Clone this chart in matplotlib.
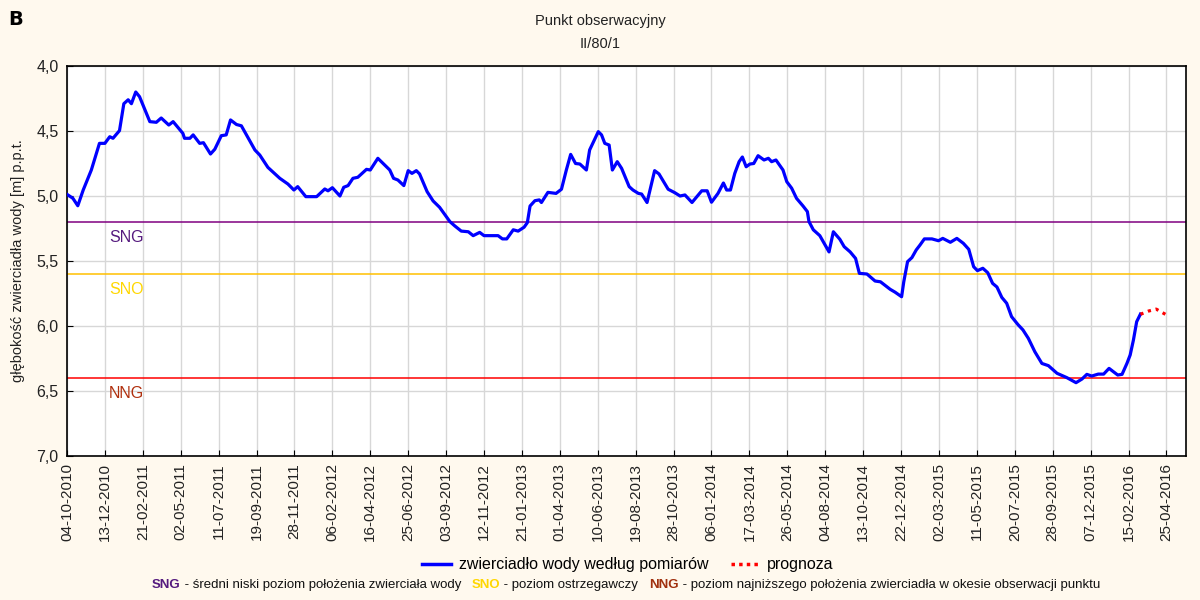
import numpy as np
import pandas as pd
import matplotlib
matplotlib.use("Agg")
import matplotlib.pyplot as plt
import matplotlib.dates as mdates
from matplotlib.lines import Line2D
from matplotlib.offsetbox import TextArea, HPacker, AnchoredOffsetbox

plt.rcParams['font.family'] = ['Liberation Sans', 'DejaVu Sans']

start = pd.Timestamp('2010-10-04')

# dni od 04-10-2010 i głębokość zwierciadła [m p.p.t.]
dni = [0, 11, 20, 30, 45, 60, 70, 79, 85, 97, 105, 113, 119, 127, 134, 153, 165, 174, 188, 196,
       214, 217, 227, 233, 245, 252, 265, 273, 285, 294, 302, 313, 322, 347, 356, 371, 393, 408,
       419, 426, 441, 461, 476, 482, 490, 504, 511, 519, 528, 537, 553, 560, 574, 596, 603, 611,
       622, 630, 637, 645, 651, 665, 676, 688, 707, 716, 728, 741, 750, 762, 770, 796, 804, 812,
       824, 833, 844, 850, 855, 864, 872, 876, 888, 903, 913, 922, 930, 939, 947, 959, 965, 981,
       987, 993, 1001, 1007, 1016, 1024, 1038, 1045, 1055, 1061, 1071, 1085, 1093, 1110, 1122,
       1132, 1141, 1154, 1172, 1182, 1190, 1202, 1212, 1218, 1225, 1233, 1241, 1247, 1254, 1261,
       1268, 1276, 1287, 1295, 1301, 1309, 1322, 1329, 1338, 1347, 1359, 1367, 1370, 1378, 1390,
       1398, 1407, 1415, 1427, 1435, 1446, 1456, 1463, 1477, 1492, 1502, 1520, 1529, 1541, 1545,
       1552, 1560, 1568, 1575, 1583, 1597, 1609, 1617, 1631, 1643, 1655, 1665, 1674, 1681, 1691,
       1700, 1709, 1717, 1726, 1735, 1744, 1756, 1765, 1775, 1787, 1800, 1812, 1828, 1846, 1863,
       1874, 1883, 1892, 1904, 1914, 1924, 1940, 1948, 1957, 1963, 1969, 1975, 1982]
glebokosc = [4.987, 5.018, 5.075, 4.954, 4.80, 4.595, 4.595, 4.544, 4.556, 4.497, 4.29, 4.26, 4.29,
             4.20, 4.236, 4.428, 4.433, 4.40, 4.454, 4.428, 4.518, 4.556, 4.556, 4.53, 4.595, 4.59,
             4.677, 4.64, 4.536, 4.53, 4.415, 4.45, 4.46, 4.646, 4.685, 4.78, 4.864, 4.908, 4.954,
             4.928, 5.005, 5.005, 4.946, 4.96, 4.936, 5.0, 4.933, 4.92, 4.864, 4.856, 4.795, 4.80,
             4.71, 4.80, 4.864, 4.877, 4.92, 4.805, 4.826, 4.805, 4.83, 4.967, 5.038, 5.087, 5.197,
             5.23, 5.27, 5.275, 5.305, 5.28, 5.305, 5.305, 5.33, 5.33, 5.26, 5.27, 5.24, 5.205,
             5.077, 5.036, 5.03, 5.05, 4.972, 4.98, 4.948, 4.80, 4.68, 4.75, 4.754, 4.80, 4.646,
             4.505, 4.53, 4.595, 4.608, 4.80, 4.736, 4.787, 4.928, 4.954, 4.98, 4.985, 5.05, 4.805,
             4.83, 4.948, 4.974, 5.0, 4.992, 5.05, 4.96, 4.96, 5.048, 4.98, 4.90, 4.954, 4.954,
             4.826, 4.736, 4.70, 4.775, 4.754, 4.75, 4.69, 4.723, 4.71, 4.736, 4.723, 4.80, 4.89,
             4.94, 5.018, 5.077, 5.12, 5.197, 5.26, 5.305, 5.364, 5.43, 5.275, 5.333, 5.39, 5.43,
             5.48, 5.595, 5.60, 5.654, 5.66, 5.718, 5.74, 5.775, 5.66, 5.505, 5.474, 5.415, 5.377,
             5.33, 5.33, 5.344, 5.326, 5.356, 5.326, 5.364, 5.41, 5.544, 5.574, 5.556, 5.59, 5.672,
             5.70, 5.78, 5.825, 5.928, 5.99, 6.03, 6.095, 6.198, 6.288, 6.305, 6.364, 6.397, 6.436,
             6.408, 6.372, 6.385, 6.37, 6.37, 6.326, 6.377, 6.372, 6.288, 6.223, 6.108, 5.967, 5.908]

prog_dni = [1982, 1997, 2011, 2028]
prog_gl = [5.91, 5.885, 5.87, 5.91]

SNG, SNO, NNG = 5.2, 5.6, 6.4

daty = start + pd.to_timedelta(dni, unit='D')
prog_daty = start + pd.to_timedelta(prog_dni, unit='D')
ticks = [start + pd.Timedelta(days=70 * k) for k in range(30)]

fig = plt.figure(figsize=(12, 6), dpi=100, facecolor='#FFF9EE')
ax = fig.add_axes([0.0558, 0.24, 0.9325, 0.65])
ax.set_facecolor('white')

ax.axhline(SNG, color='#800080', lw=1.1, zorder=2)
ax.axhline(SNO, color='#FFC000', lw=1.1, zorder=2)
ax.axhline(NNG, color='#FF0000', lw=1.1, zorder=2)

ax.plot(daty, glebokosc, color='#0000FF', lw=2.3, zorder=3)
ax.plot(prog_daty, prog_gl, color='#FF0000', lw=2.3, ls=(0, (1, 1.5)), zorder=3)

lab_x = start + pd.Timedelta(days=110)
ax.text(lab_x, 5.32, 'SNG', color='#551A7E', fontsize=11.5, ha='center', va='center')
ax.text(lab_x, 5.72, 'SNO', color='#FFD700', fontsize=11.5, ha='center', va='center')
ax.text(lab_x, 6.52, 'NNG', color='#B0300E', fontsize=11.5, ha='center', va='center')

ax.set_xlim(start, start + pd.Timedelta(days=2066))
ax.set_ylim(7.0, 4.0)
ax.set_xticks(ticks)
ax.xaxis.set_major_formatter(mdates.DateFormatter('%d-%m-%Y'))
ax.set_yticks(np.arange(4.0, 7.01, 0.5))
ax.set_yticklabels([f'{v:.1f}'.replace('.', ',') for v in np.arange(4.0, 7.01, 0.5)])
ax.tick_params(axis='x', direction='in', length=4, labelsize=11, rotation=90, colors='black',
               labelcolor='#222222', pad=5)
ax.tick_params(axis='y', direction='in', length=4, labelsize=11.5, labelcolor='#222222', pad=6)
ax.grid(True, color='#D7D7D7', lw=1)
ax.set_axisbelow(True)
for s in ax.spines.values():
    s.set_color('black')
    s.set_linewidth(1.2)

ax.set_ylabel('głębokość zwierciadła wody [m] p.p.t.', fontsize=10.5, color='#222222', labelpad=8)

fig.text(0.007, 0.968, 'B', fontsize=14, fontweight='bold', ha='left', va='center',
         family='DejaVu Sans')
fig.text(0.5, 1 - 21 / 600, 'Punkt obserwacyjny', fontsize=10.5, ha='center', va='center',
         color='#222222')
fig.text(0.5, 1 - 44 / 600, 'II/80/1', fontsize=10.5, ha='center', va='center', color='#222222')

handles = [Line2D([], [], color='#0000FF', lw=2.5),
           Line2D([], [], color='#FF0000', lw=2.5, ls=(0, (1, 1.2)))]
fig.legend(handles, ['zwierciadło wody według pomiarów', 'prognoza'], loc='center',
           bbox_to_anchor=(628 / 1200, 1 - 565 / 600), ncol=2, frameon=False, fontsize=11.5,
           handlelength=1.8, columnspacing=1.4, handletextpad=0.5)

parts = [('SNG', '#551A7E', 'bold'), (' - średni niski poziom położenia zwierciała wody   ', '#111111', 'normal'),
         ('SNO', '#FFD700', 'bold'), (' - poziom ostrzegawczy   ', '#111111', 'normal'),
         ('NNG', '#A0300E', 'bold'), (' - poziom najniższego położenia zwierciadła w okesie obserwacji punktu', '#111111', 'normal')]
areas = [TextArea(t, textprops=dict(color=c, fontweight=w, fontsize=9.5)) for t, c, w in parts]
box = HPacker(children=areas, align='baseline', pad=0, sep=0)
anch = AnchoredOffsetbox(loc='center', child=box, frameon=False,
                         bbox_to_anchor=(626 / 1200, 1 - 585 / 600), bbox_transform=fig.transFigure,
                         borderpad=0, pad=0)
fig.add_artist(anch)

fig.savefig('out.png', dpi=100, facecolor=fig.get_facecolor())
